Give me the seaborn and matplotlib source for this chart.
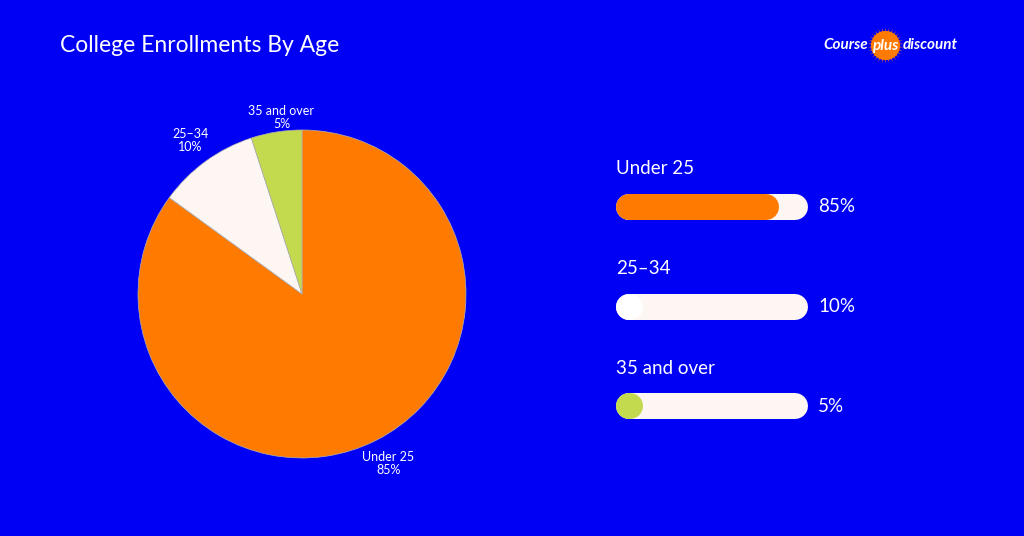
import matplotlib
matplotlib.use("Agg")
import matplotlib.pyplot as plt
import seaborn as sns
import numpy as np

categories = ["Under 25", "25\u201334", "35 and over"]
values = [85, 10, 5]
colors = ["#FF7A00", "#FDF6F3", "#C3D94E"]
bar_fill = ["#FF7A00", "#FFFFFF", "#C3D94E"]
title = "College Enrollments By Age"

BG = "#0000F5"
sns.set_style("white")
plt.rcParams["font.family"] = "Lato"
W, H = 1024, 536
fig = plt.figure(figsize=(W/100, H/100), dpi=100, facecolor=BG)

# pie
cx, cy, r = 302, 294, 164
axp = fig.add_axes([(cx-r)/W, (H-cy-r)/H, 2*r/W, 2*r/H])
axp.set_facecolor(BG)
wedges, texts = axp.pie(values, colors=colors, startangle=90, counterclock=False,
                        labels=[f"{c}\n{v}%" for c, v in zip(categories, values)],
                        labeldistance=1.16,
                        textprops=dict(color="white", fontsize=9, ha="center", va="center", linespacing=1.1, clip_on=False),
                        wedgeprops=dict(linewidth=0.5, edgecolor="#B0B0B0"))
for t in texts:
    t.set_ha("center")
texts[2].set_position((texts[2].get_position()[0] * 1.12 / 1.16 + 0.05, texts[2].get_position()[1] * 1.12 / 1.16 - 0.03))
axp.set_xlim(-1, 1); axp.set_ylim(-1, 1)
axp.set_aspect("equal")
axp.axis("off")

# overlay axes in pixel coords
ax = fig.add_axes([0, 0, 1, 1])
ax.set_xlim(0, W); ax.set_ylim(H, 0); ax.axis("off")
ax.patch.set_alpha(0)
ax.text(60, 46, title, color="white", fontsize=16.5, va="center", ha="left")

x0, bw, bh = 616, 192, 26
lw = bh * 72 / 100
ys = [207, 307, 406]
for cat, v, col, y in zip(categories, values, bar_fill, ys):
    ax.text(x0, y - 38, cat, color="white", fontsize=13.5, va="center", ha="left")
    ax.plot([x0 + bh/2, x0 + bw - bh/2], [y, y], color="#FDF6F3", lw=lw, solid_capstyle="round")
    end = max(x0 + v/100*bw - bh/2, x0 + bh/2 + 1)
    ax.plot([x0 + bh/2, end], [y, y], color=col, lw=lw, solid_capstyle="round")
    ax.text(x0 + bw + 10, y, f"{v}%", color="white", fontsize=13.5, va="center", ha="left")

# logo
ax.plot([885], [45], marker=(30, 1, 0), markersize=26, color="#FF7A00", markeredgewidth=0)
ax.plot([885], [45], marker="o", markersize=21, color="#FF7A00", markeredgewidth=0)
ax.text(868, 45, "Course", color="white", fontsize=11, fontweight="bold", style="italic", ha="right", va="center")
ax.text(885, 46, "plus", color="white", fontsize=11, fontweight="bold", style="italic", ha="center", va="center")
ax.text(903, 45, "discount", color="white", fontsize=11, fontweight="bold", style="italic", ha="left", va="center")

fig.savefig("out.png", dpi=100, facecolor=BG)
